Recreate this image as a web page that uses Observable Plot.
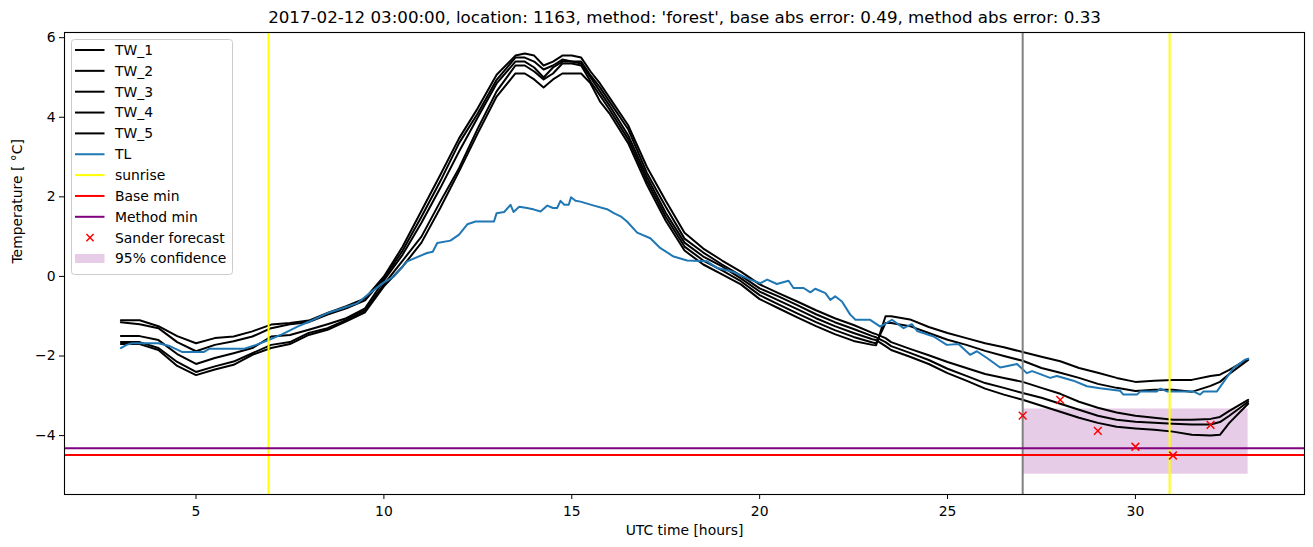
<!DOCTYPE html>
<html><head><meta charset="utf-8">
<script src="https://cdn.jsdelivr.net/npm/d3@7"></script>
<script src="https://cdn.jsdelivr.net/npm/@observablehq/plot@0.6"></script>
<style>body{margin:0;background:#fff;}</style>
</head><body><div id="chart"></div>
<script>
const title = "2017-02-12 03:00:00, location: 1163, method: 'forest', base abs error: 0.49, method abs error: 0.33";
const xLabel = "UTC time [hours]";
const yLabel = "Temperature [ °C]";
const xTicks = [5, 10, 15, 20, 25, 30];
const yTicks = [-4, -2, 0, 2, 4, 6];

const tw_names = ["TW_1", "TW_2", "TW_3", "TW_4", "TW_5"];
const tw_time = [3,3.5,4,4.5,5,5.5,6,6.5,7,7.5,
  8,8.5,9,9.5,10,10.5,11,11.5,12,12.5,
  13,13.5,13.75,14,14.25,14.5,14.75,15,15.25,15.5,
  15.75,16,16.5,17,17.5,18,18.5,19,19.5,20,
  20.5,21,21.5,22,22.5,23,23.1,23.35,23.5,24,
  24.5,25,25.5,26,26.5,27,27.5,28,28.5,29,
  29.5,30,30.5,31,31.5,32,32.25,32.5,33];
const tw_1 = [-1.1,-1.1,-1.25,-1.5,-1.68,-1.55,-1.51,-1.38,-1.21,-1.17,
  -1.11,-0.92,-0.75,-0.55,0.0,0.75,1.65,2.55,3.47,4.23,
  5.07,5.55,5.6,5.55,5.3,5.4,5.55,5.55,5.5,5.15,
  4.85,4.5,3.8,2.75,1.9,1.1,0.7,0.4,0.12,-0.2,
  -0.42,-0.63,-0.85,-1.05,-1.22,-1.42,-1.45,-1.55,-1.65,-1.82,
  -1.98,-2.15,-2.3,-2.45,-2.55,-2.65,-2.8,-2.95,-3.15,-3.3,
  -3.42,-3.5,-3.55,-3.6,-3.6,-3.58,-3.53,-3.38,-3.1];
const tw_2 = [-1.15,-1.2,-1.3,-1.65,-1.88,-1.72,-1.63,-1.51,-1.3,-1.2,
  -1.15,-0.96,-0.8,-0.6,-0.05,0.65,1.5,2.39,3.35,4.1,
  4.94,5.5,5.5,5.4,5.2,5.3,5.45,5.4,5.4,5.05,
  4.75,4.4,3.7,2.6,1.75,0.95,0.6,0.3,0.02,-0.3,
  -0.5,-0.72,-0.95,-1.15,-1.32,-1.5,-1.53,-1.65,-1.75,-1.92,
  -2.1,-2.32,-2.5,-2.68,-2.8,-2.93,-3.05,-3.2,-3.35,-3.5,
  -3.6,-3.65,-3.68,-3.7,-3.72,-3.72,-3.66,-3.5,-3.15];
const tw_3 = [-1.5,-1.5,-1.6,-1.95,-2.2,-2.05,-1.93,-1.8,-1.51,-1.47,
  -1.34,-1.2,-1.05,-0.8,-0.1,0.55,1.35,2.22,3.14,4.0,
  4.85,5.4,5.4,5.25,5.0,5.25,5.4,5.4,5.35,5.0,
  4.65,4.3,3.55,2.5,1.6,0.85,0.5,0.25,-0.05,-0.38,
  -0.6,-0.82,-1.05,-1.25,-1.42,-1.58,-1.6,-1.75,-1.85,-2.02,
  -2.2,-2.43,-2.62,-2.82,-2.97,-3.1,-3.25,-3.4,-3.55,-3.68,
  -3.78,-3.82,-3.85,-3.9,-3.98,-4.0,-3.98,-3.68,-3.2];
const tw_4 = [-1.65,-1.65,-1.8,-2.15,-2.4,-2.26,-2.14,-1.93,-1.72,-1.65,
  -1.42,-1.3,-1.09,-0.85,-0.2,0.4,1.0,1.88,2.72,3.72,
  4.65,5.3,5.3,5.15,4.95,5.1,5.35,5.35,5.3,4.9,
  4.55,4.2,3.45,2.4,1.5,0.75,0.4,0.15,-0.12,-0.47,
  -0.7,-0.93,-1.15,-1.35,-1.52,-1.66,-1.68,-1.17,-1.17,-1.25,
  -1.42,-1.59,-1.72,-1.87,-2.0,-2.12,-2.3,-2.42,-2.55,-2.7,
  -2.8,-2.88,-2.85,-2.85,-2.9,-2.75,-2.65,-2.45,-2.1];
const tw_5 = [-1.7,-1.7,-1.85,-2.25,-2.48,-2.34,-2.22,-1.97,-1.8,-1.7,
  -1.47,-1.34,-1.13,-0.9,-0.25,0.25,0.85,1.72,2.64,3.6,
  4.52,5.1,5.1,4.95,4.75,4.95,5.1,5.1,5.1,4.85,
  4.4,4.1,3.35,2.3,1.4,0.65,0.3,0.05,-0.2,-0.57,
  -0.8,-1.03,-1.25,-1.45,-1.62,-1.72,-1.73,-1.0,-1.0,-1.08,
  -1.27,-1.42,-1.55,-1.68,-1.78,-1.9,-2.02,-2.13,-2.3,-2.42,
  -2.55,-2.65,-2.62,-2.6,-2.6,-2.5,-2.47,-2.35,-2.07];

const tl_time = [3.0,3.15,3.3,4.0,4.3,4.64,5.2,5.35,6.27,6.6,
  6.9,7.3,7.7,8.1,8.5,8.9,9.3,9.65,10.0,10.27,
  10.62,11.15,11.3,11.42,11.77,12.0,12.22,12.44,12.93,13.0,
  13.2,13.37,13.45,13.6,13.81,14.0,14.17,14.35,14.5,14.61,
  14.7,14.8,14.92,14.98,15.1,15.23,15.59,15.94,16.12,16.3,
  16.47,16.74,17.09,17.36,17.71,18.07,18.6,18.87,19.31,19.75,
  20.02,20.2,20.46,20.77,20.9,21.17,21.35,21.48,21.75,21.88,
  22.01,22.19,22.41,22.55,22.94,23.21,23.52,23.83,24.05,24.19,
  24.63,24.98,25.29,25.6,25.78,26.05,26.4,26.6,26.85,27.11,
  27.25,27.45,27.73,27.91,28.35,28.71,29.06,29.59,29.68,30.04,
  30.13,30.57,30.66,30.84,31.54,31.72,31.81,32.17,32.61,32.92,
  33.0];
const tl_temp = [-1.8,-1.72,-1.68,-1.68,-1.75,-1.9,-1.9,-1.82,-1.82,-1.72,
  -1.61,-1.45,-1.26,-1.1,-0.92,-0.8,-0.67,-0.4,-0.15,0.0,
  0.38,0.59,0.62,0.84,0.9,1.05,1.31,1.38,1.38,1.59,
  1.62,1.8,1.62,1.75,1.72,1.68,1.63,1.78,1.72,1.72,
  1.9,1.8,1.8,1.99,1.9,1.88,1.78,1.69,1.59,1.51,
  1.38,1.1,0.96,0.71,0.5,0.4,0.38,0.21,0.11,-0.08,
  -0.17,-0.08,-0.19,-0.11,-0.29,-0.29,-0.4,-0.31,-0.42,-0.59,
  -0.5,-0.63,-0.96,-1.09,-1.09,-1.26,-1.09,-1.3,-1.2,-1.37,
  -1.51,-1.72,-1.7,-1.97,-1.88,-2.05,-2.29,-2.25,-2.2,-2.43,
  -2.38,-2.45,-2.55,-2.5,-2.62,-2.76,-2.81,-2.87,-2.97,-2.97,
  -2.89,-2.89,-2.82,-2.89,-2.89,-2.97,-2.89,-2.89,-2.3,-2.09,
  -2.07];

const sunrise = [6.93, 30.91];
const forecast_start = 27;
const base_min = -4.49;
const method_min = -4.32;
const sander_time = [27, 28, 29, 30, 31, 32];
const sander_temp = [-3.50, -3.10, -3.88, -4.28, -4.50, -3.73];
const conf_start = 27, conf_end = 33, conf_low = -4.97, conf_high = -3.33;

const twSeries = [tw_1, tw_2, tw_3, tw_4, tw_5];
const twData = twSeries.flatMap((vals, k) => vals.map((v, i) => ({name: tw_names[k], t: tw_time[i], v})));
const tlData = tl_time.map((t, i) => ({t, v: tl_temp[i]}));
const sanderData = sander_time.map((t, i) => ({t, v: sander_temp[i]}));
const confData = [{x1: conf_start, x2: conf_end, y1: conf_low, y2: conf_high}];

const FONT = "DejaVu Sans";
const LW = 2;
const chart = Plot.plot({
  width: 1313, height: 547,
  marginLeft: 64, marginRight: 9, marginTop: 32, marginBottom: 53,
  style: {fontFamily: FONT, fontSize: "13.9px", background: "white", color: "black"},
  x: {domain: [1.5, 34.5]},
  y: {domain: [-5.48, 6.13]},
  marks: [
    Plot.rect(confData, {x1: "x1", x2: "x2", y1: "y1", y2: "y2", fill: "purple", fillOpacity: 0.2}),
    Plot.line(twData, {x: "t", y: "v", z: "name", stroke: "black", strokeWidth: LW}),
    Plot.line(tlData, {x: "t", y: "v", stroke: "#1f77b4", strokeWidth: LW}),
    Plot.ruleX(sunrise, {stroke: "yellow", strokeWidth: LW}),
    Plot.ruleX([forecast_start], {stroke: "grey", strokeWidth: LW}),
    Plot.ruleY([base_min], {stroke: "red", strokeWidth: LW}),
    Plot.ruleY([method_min], {stroke: "purple", strokeWidth: LW}),
    Plot.dot(sanderData, {x: "t", y: "v", symbol: "times", r: 3.6, stroke: "red", strokeWidth: 1.5}),
    Plot.axisX({ticks: xTicks, tickSize: 5, tickPadding: 7, label: null, tickFormat: d => String(d)}),
    Plot.axisY({ticks: yTicks, tickSize: 5, tickPadding: 4, label: null}),
    Plot.frame({stroke: "black", strokeWidth: 1.1}),
    Plot.text([title], {frameAnchor: "top", lineAnchor: "middle", dy: -15, fontSize: 16.7, fill: "black"}),
    Plot.text([xLabel], {frameAnchor: "bottom", lineAnchor: "middle", dy: 36, fontSize: 13.9, fill: "black"}),
    Plot.text([yLabel], {frameAnchor: "left", dx: -47, rotate: -90, fontSize: 13.9, fill: "black"})
  ]
});
document.getElementById("chart").appendChild(chart);

// legend
const legendItems = [
  {label: "TW_1", kind: "line", color: "black"},
  {label: "TW_2", kind: "line", color: "black"},
  {label: "TW_3", kind: "line", color: "black"},
  {label: "TW_4", kind: "line", color: "black"},
  {label: "TW_5", kind: "line", color: "black"},
  {label: "TL", kind: "line", color: "#1f77b4"},
  {label: "sunrise", kind: "line", color: "yellow"},
  {label: "Base min", kind: "line", color: "red"},
  {label: "Method min", kind: "line", color: "purple"},
  {label: "Sander forecast", kind: "x", color: "red"},
  {label: "95% confidence", kind: "patch", color: "purple"}
];
const lg = d3.select(chart).append("g").attr("font-family", FONT).attr("font-size", "13.9px").attr("text-anchor", "start");
lg.append("rect").attr("x", 71.5).attr("y", 39.5).attr("width", 161).attr("height", 235)
  .attr("rx", 3).attr("fill", "white").attr("fill-opacity", 0.8).attr("stroke", "#cccccc");
legendItems.forEach((it, i) => {
  const y = 50 + i * 20.85;
  if (it.kind === "line") {
    lg.append("line").attr("x1", 75).attr("x2", 104.5).attr("y1", y).attr("y2", y)
      .attr("stroke", it.color).attr("stroke-width", LW);
  } else if (it.kind === "x") {
    lg.append("path").attr("d", `M${90-3.6},${y-3.6}L${90+3.6},${y+3.6}M${90-3.6},${y+3.6}L${90+3.6},${y-3.6}`)
      .attr("stroke", it.color).attr("stroke-width", 1.5);
  } else {
    lg.append("rect").attr("x", 75).attr("y", y - 4.5).attr("width", 29.5).attr("height", 9)
      .attr("fill", it.color).attr("fill-opacity", 0.2);
  }
  lg.append("text").attr("x", 115).attr("y", y).attr("dy", "0.35em").attr("fill", "black").attr("text-anchor", "start").text(it.label);
});
</script>
</body></html>
